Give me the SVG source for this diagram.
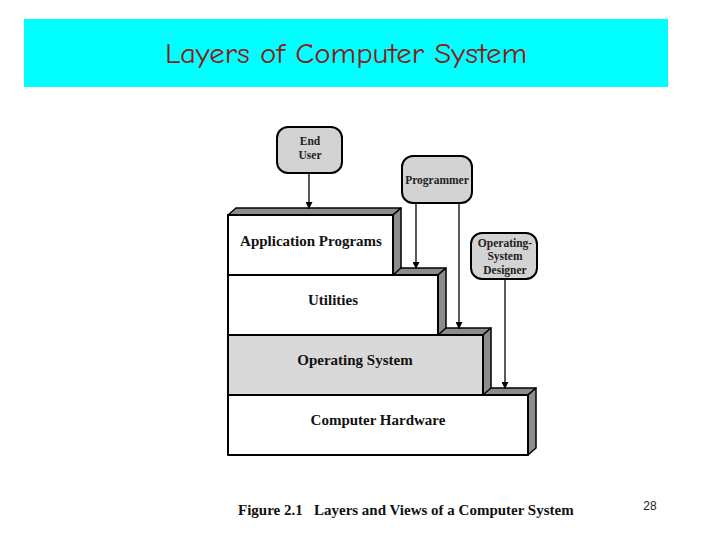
<svg xmlns="http://www.w3.org/2000/svg" width="720" height="540" viewBox="0 0 720 540">
<defs>
<style>
.face{stroke:#000;stroke-width:2;stroke-linejoin:round}
.white{fill:#fff}
.gray{fill:#d9d9d9}
.dark{fill:#8c8c8c;stroke:#000;stroke-width:1.5;stroke-linejoin:round}
.node{fill:#d3d3d3;stroke:#000;stroke-width:2}
.lbl{font-family:"Liberation Serif",serif;font-weight:bold;font-size:15px;text-anchor:middle;fill:#111}
.nlbl{font-family:"Liberation Serif",serif;font-weight:bold;font-size:11.5px;text-anchor:middle;fill:#222}
.conn{stroke:#000;stroke-width:1.3;fill:none;marker-end:url(#ah)}
</style>
<marker id="ah" viewBox="0 0 10 10" refX="10" refY="5" markerWidth="7" markerHeight="7" markerUnits="userSpaceOnUse" orient="auto">
<path d="M0,0 L10,5 L0,10 z" fill="#000"/>
</marker>
</defs>
<rect width="720" height="540" fill="#fff"/>
<g id="banner">
<rect x="24" y="19" width="644" height="68" fill="#00ffff"/>
<text x="165" y="63" font-family="'Comic Neue','DejaVu Sans',sans-serif" font-size="29" fill="#8b1a1a" textLength="362" lengthAdjust="spacingAndGlyphs">Layers of Computer System</text>
</g>
<g id="hardware">
<polygon class="dark" points="228,395 236,388 536,388 528,395"/>
<polygon class="dark" points="528,395 536,388 536,448 528,455"/>
<rect class="face white" x="228" y="395" width="300" height="60"/>
<text class="lbl" x="378" y="425">Computer Hardware</text>
</g>
<g id="os">
<polygon class="dark" points="228,335 236,328 491,328 483,335"/>
<polygon class="dark" points="483,335 491,328 491,388 483,395"/>
<rect class="face gray" x="228" y="335" width="255" height="60"/>
<text class="lbl" x="355" y="365">Operating System</text>
</g>
<g id="utilities">
<polygon class="dark" points="228,275 236,268 446,268 438,275"/>
<polygon class="dark" points="438,275 446,268 446,328 438,335"/>
<rect class="face white" x="228" y="275" width="210" height="60"/>
<text class="lbl" x="333" y="305">Utilities</text>
</g>
<g id="application">
<polygon class="dark" points="228,215 236,208 401,208 393,215"/>
<polygon class="dark" points="393,215 401,208 401,268 393,275"/>
<rect class="face white" x="228" y="215" width="165" height="60"/>
<text class="lbl" x="311" y="246">Application Programs</text>
</g>
<g id="end-user">
<rect class="node" x="277" y="127" width="65" height="46" rx="11"/>
<text class="nlbl" x="310" y="145">End</text>
<text class="nlbl" x="310" y="159">User</text>
</g>
<g id="programmer">
<rect class="node" x="402" y="156" width="70" height="47" rx="11"/>
<text class="nlbl" x="437" y="184">Programmer</text>
</g>
<g id="os-designer">
<rect class="node" x="471" y="233" width="66" height="46" rx="11"/>
<text class="nlbl" x="505" y="247">Operating-</text>
<text class="nlbl" x="505" y="260">System</text>
<text class="nlbl" x="505" y="274">Designer</text>
</g>
<g id="connectors">
<line class="conn" x1="309" y1="173" x2="309" y2="209"/>
<line class="conn" x1="416" y1="203" x2="416" y2="269"/>
<line class="conn" x1="459" y1="203" x2="459" y2="329"/>
<line class="conn" x1="505" y1="279" x2="505" y2="389"/>
</g>
<g id="caption">
<text x="238" y="515" font-family="'Liberation Serif',serif" font-weight="bold" font-size="15" fill="#111" xml:space="preserve">Figure 2.1   Layers and Views of a Computer System</text>
<text x="650" y="510" font-family="'Liberation Sans',sans-serif" font-size="12" fill="#222" text-anchor="middle">28</text>
</g>
</svg>
